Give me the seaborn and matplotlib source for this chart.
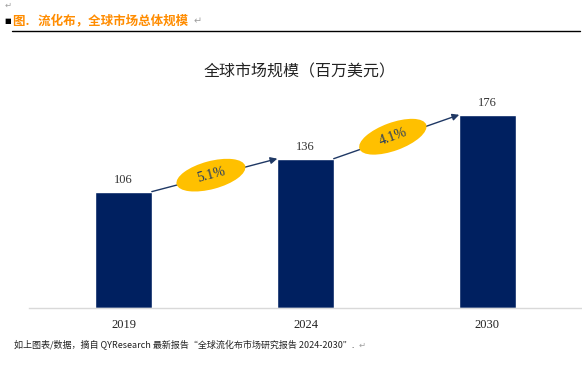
import numpy as np
import pandas as pd
import matplotlib
matplotlib.use('Agg')
import matplotlib.pyplot as plt
import matplotlib.transforms as mtransforms
from matplotlib.patches import Ellipse
import seaborn as sns

# ---- data ----
years = ['2019', '2024', '2030']
market_size = [106, 136, 176]
cagr_labels = ['5.1%', '4.1%']
cagr_angles = [15, 20]

sns.set_theme(style='white')
plt.rcParams['font.family'] = ['Noto Sans CJK SC', 'DejaVu Sans']

df = pd.DataFrame({'year': years, 'size': market_size})

fig = plt.figure(figsize=(5.82, 3.70), dpi=100)
ax = fig.add_axes([29 / 582, 62 / 370, 1 - 29 / 582, 258 / 370])

sns.barplot(data=df, x='year', y='size', color='#002060', width=0.31,
            saturation=1, ax=ax)

ax.set_xlim(-0.52, 2.52)
ax.set_ylim(0, 235)
ax.set_xlabel('')
ax.set_ylabel('')
ax.set_yticks([])
ax.tick_params(axis='x', length=0, pad=8)
for lab in ax.get_xticklabels():
    lab.set_family('Liberation Serif')
    lab.set_fontsize(9)
    lab.set_color('#222222')
for s in ['top', 'right', 'left']:
    ax.spines[s].set_visible(False)
ax.spines['bottom'].set_color('#d9d9d9')
ax.spines['bottom'].set_linewidth(1)

# value labels
for i, v in enumerate(market_size):
    ax.text(i, v + 5, str(v), ha='center', va='bottom', fontsize=9,
            family='Liberation Serif', color='#333333')

# growth arrows between bar tops, with yellow ellipse labels
hw = 0.155
for i in range(len(market_size) - 1):
    x0, y0 = i + hw, market_size[i]
    x1, y1 = i + 1 - hw, market_size[i + 1]
    ax.annotate('', xy=(x1, y1), xytext=(x0, y0),
                arrowprops=dict(arrowstyle='-|>', color='#1f3864', lw=1,
                                mutation_scale=10, shrinkA=0, shrinkB=0))
    xm = (x0 + x1) / 2 - 0.02
    ym = (y0 + y1) / 2
    trans = fig.dpi_scale_trans + mtransforms.ScaledTranslation(xm, ym, ax.transData)
    ax.add_patch(Ellipse((0, 0), width=0.71, height=0.28, angle=cagr_angles[i],
                         fc='#FFC000', ec='none', transform=trans, zorder=3))
    ax.text(xm, ym, cagr_labels[i], rotation=cagr_angles[i],
            rotation_mode='anchor', ha='center', va='center', fontsize=10,
            family='Liberation Serif', color='#1f3864', zorder=4)

fig.text(300 / 582, 1 - 72 / 370, '全球市场规模（百万美元）', ha='center',
         va='center', fontsize=11.5, color='#222222')

# header
fig.text(5 / 582, 1 - 5 / 370, '↵', fontsize=6, color='#a0a0a0',
         ha='left', va='center', family=['DejaVu Sans'])
fig.text(4 / 582, 1 - 21 / 370, '■', fontsize=5, color='black',
         ha='left', va='center', family=['DejaVu Sans'])
fig.text(13 / 582, 1 - 21 / 370, '图.   流化布，全球市场总体规模', fontsize=9,
         fontweight='bold', color='#ff8c00', ha='left', va='center')
fig.text(194 / 582, 1 - 21 / 370, '↵', fontsize=7, color='#a0a0a0',
         ha='left', va='center', family=['DejaVu Sans'])
fig.add_artist(plt.Line2D([12 / 582, 580 / 582], [1 - 31 / 370, 1 - 31 / 370],
                          color='black', lw=1))

# footer
fig.text(14 / 582, 1 - 345 / 370,
         '如上图表/数据，摘自 QYResearch 最新报告“全球流化布市场研究报告 2024-2030”.',
         fontsize=6.5, style='italic', color='#222222', ha='left', va='center')
fig.text(359 / 582, 1 - 345 / 370, '↵', fontsize=6, color='#a0a0a0',
         ha='left', va='center', family=['DejaVu Sans'])

fig.savefig('out.png', dpi=100)
